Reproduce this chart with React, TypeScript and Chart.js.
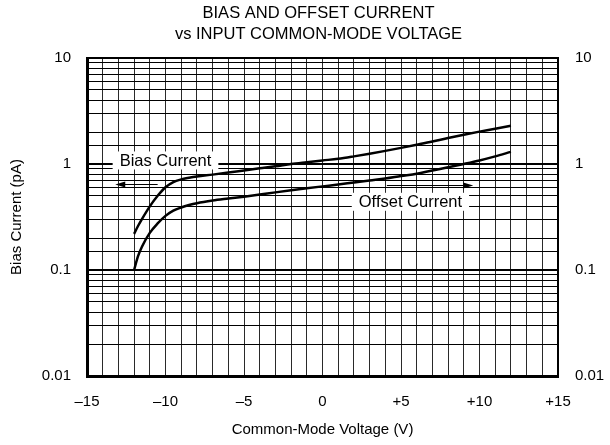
import React, { useEffect, useRef } from 'react';
import { Chart, registerables } from 'chart.js';

Chart.register(...registerables);

// Common-mode voltage (V)
const voltage = [-12, -11.75, -11.5, -11, -10.5, -10, -9.5, -9, -8.5, -8, -7, -6, -5, -4, -3, -2, -1, 0, 1, 2, 3, 4, 5, 6, 7, 8, 9, 10, 11, 12];
// Bias current (pA)
const biasCurrent = [0.219, 0.26, 0.302, 0.398, 0.501, 0.603, 0.676, 0.716, 0.741, 0.762, 0.794, 0.83, 0.87, 0.91, 0.95, 1.0, 1.04, 1.08, 1.12, 1.18, 1.25, 1.33, 1.42, 1.52, 1.63, 1.76, 1.89, 2.02, 2.15, 2.3];
// Offset current (pA)
const offsetCurrent = [0.1, 0.135, 0.166, 0.224, 0.275, 0.324, 0.363, 0.389, 0.41, 0.427, 0.452, 0.472, 0.492, 0.515, 0.54, 0.565, 0.59, 0.615, 0.64, 0.67, 0.7, 0.73, 0.77, 0.81, 0.87, 0.93, 1.0, 1.08, 1.18, 1.3];

const xTickValues = [-15, -10, -5, 0, 5, 10, 15];
const xTickLabels = ['–15', '–10', '–5', '0', '+5', '+10', '+15'];
const yTickValues = [10, 1, 0.1, 0.01];
const yTickLabels = ['10', '1', '0.1', '0.01'];

const titleLines = ['BIAS AND OFFSET CURRENT', 'vs INPUT COMMON-MODE VOLTAGE'];

const FONT = "'Liberation Sans', Arial, Helvetica, sans-serif";

const isDecade = (v: number) => {
  const l = Math.log10(v);
  return Math.abs(l - Math.round(l)) < 1e-6;
};

const yLabel = (v: number) => {
  for (let i = 0; i < yTickValues.length; i++) {
    if (Math.abs(yTickValues[i] - v) / yTickValues[i] < 1e-6) return yTickLabels[i];
  }
  return '';
};

const annotationPlugin = {
  id: 'annotations',
  afterDraw(chart: any) {
    const { ctx, chartArea, scales } = chart;
    const x = scales.x;
    const y = scales.y;
    ctx.save();
    // Title
    ctx.fillStyle = '#000';
    ctx.font = `16.5px ${FONT}`;
    ctx.textAlign = 'center';
    ctx.textBaseline = 'middle';
    const cx = (chartArea.left + chartArea.right) / 2 - 4;
    ctx.fillText(titleLines[0], cx, 13);
    ctx.fillText(titleLines[1], cx, 34);

    const label = (text: string, xv: number, yv: number) => {
      ctx.font = `16.5px ${FONT}`;
      const w = ctx.measureText(text).width;
      const px = x.getPixelForValue(xv);
      const py = y.getPixelForValue(yv);
      ctx.fillStyle = '#fff';
      ctx.fillRect(px - w / 2 - 7, py - 9, w + 14, 18);
      ctx.fillStyle = '#000';
      ctx.textAlign = 'center';
      ctx.textBaseline = 'middle';
      ctx.fillText(text, px, py + 1);
    };
    const arrow = (x1: number, x2: number, yv: number) => {
      const p1 = x.getPixelForValue(x1);
      const p2 = x.getPixelForValue(x2);
      const py = Math.round(y.getPixelForValue(yv)) + 0.5;
      const dir = Math.sign(p2 - p1);
      ctx.strokeStyle = '#000';
      ctx.lineWidth = 1.2;
      ctx.beginPath();
      ctx.moveTo(p1, py);
      ctx.lineTo(p2 - dir * 8, py);
      ctx.stroke();
      ctx.fillStyle = '#000';
      ctx.beginPath();
      ctx.moveTo(p2, py);
      ctx.lineTo(p2 - dir * 10, py - 3);
      ctx.lineTo(p2 - dir * 10, py + 3);
      ctx.closePath();
      ctx.fill();
    };
    label('Bias Current', -10, 1.08);
    arrow(-10.5, -13.2, 0.65);
    label('Offset Current', 5.6, 0.44);
    arrow(4.1, 9.6, 0.635);
    ctx.restore();
  },
};

export default function App() {
  const canvasRef = useRef<HTMLCanvasElement | null>(null);

  useEffect(() => {
    if (!canvasRef.current) return;
    const chart = new Chart(canvasRef.current, {
      type: 'line',
      data: {
        datasets: [
          {
            label: 'Bias Current',
            data: voltage.map((v, i) => ({ x: v, y: biasCurrent[i] })),
            borderColor: '#000',
            borderWidth: 2.5,
            pointRadius: 0,
            cubicInterpolationMode: 'monotone',
            fill: false,
          },
          {
            label: 'Offset Current',
            data: voltage.map((v, i) => ({ x: v, y: offsetCurrent[i] })),
            borderColor: '#000',
            borderWidth: 2.5,
            pointRadius: 0,
            cubicInterpolationMode: 'monotone',
            fill: false,
          },
        ],
      },
      options: {
        animation: false,
        responsive: false,
        maintainAspectRatio: false,
        layout: { padding: { top: 58, left: 0, right: 0, bottom: 0 } },
        plugins: {
          legend: { display: false },
          title: { display: false },
          tooltip: { enabled: false },
        },
        scales: {
          x: {
            type: 'linear',
            min: -15,
            max: 15,
            afterFit: (s: any) => { s.height = 69; },
            ticks: {
              stepSize: 1,
              autoSkip: false,
              maxRotation: 0,
              padding: 17,
              color: '#000',
              font: { family: FONT, size: 15 },
              callback: (v: any) => {
                const i = xTickValues.indexOf(Number(v));
                return i >= 0 ? xTickLabels[i] : '';
              },
            },
            grid: { color: '#2a2a2a', lineWidth: 1, drawTicks: false },
            border: { color: '#000', width: 3 },
            title: {
              display: true,
              text: 'Common-Mode Voltage (V)',
              color: '#000',
              font: { family: FONT, size: 15 },
              padding: { top: 0, bottom: 6 },
            },
          },
          y: {
            type: 'logarithmic',
            position: 'left',
            min: 0.01,
            max: 10,
            afterFit: (s: any) => { s.width = 87; },
            ticks: {
              autoSkip: false,
              padding: 16,
              color: '#000',
              font: { family: FONT, size: 15 },
              callback: (v: any) => yLabel(Number(v)),
            },
            grid: {
              drawTicks: false,
              color: '#000',
              lineWidth: (c: any) => (c.tick && isDecade(c.tick.value) ? 2 : 1),
            },
            border: { color: '#000', width: 3 },
            title: {
              display: true,
              text: 'Bias Current (pA)',
              color: '#000',
              font: { family: FONT, size: 15 },
              padding: { top: 8, bottom: 0 },
            },
          },
          y2: {
            type: 'logarithmic',
            position: 'right',
            min: 0.01,
            max: 10,
            afterFit: (s: any) => { s.width = 52; },
            ticks: {
              autoSkip: false,
              padding: 17,
              color: '#000',
              font: { family: FONT, size: 15 },
              callback: (v: any) => yLabel(Number(v)),
            },
            grid: { display: false, drawTicks: false },
            border: { color: '#000', width: 2 },
          },
        },
      },
      plugins: [annotationPlugin],
    } as any);
    return () => chart.destroy();
  }, []);

  return (
    <div style={{ position: 'fixed', left: 0, top: 0, width: 610, height: 445, background: '#fff' }}>
      <canvas ref={canvasRef} width={610} height={445} style={{ width: 610, height: 445, display: 'block' }} />
    </div>
  );
}
